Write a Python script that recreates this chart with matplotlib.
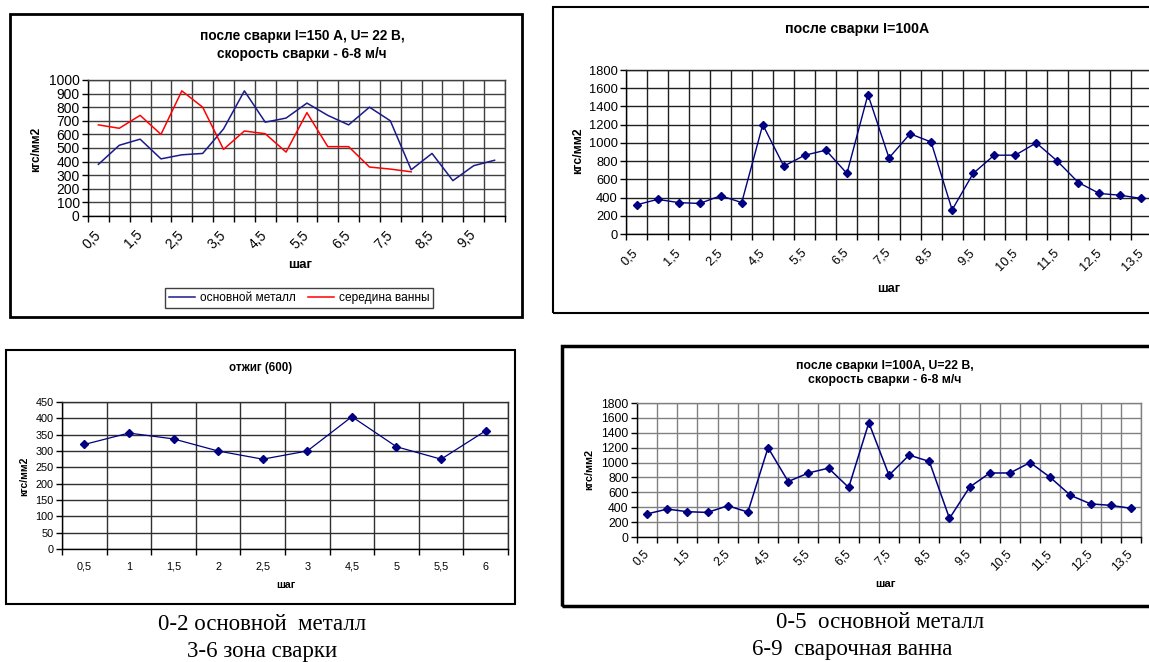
import matplotlib
matplotlib.use('Agg')
import matplotlib.pyplot as plt
from matplotlib.patches import Rectangle
from matplotlib.ticker import FixedLocator, MultipleLocator

plt.rcParams['font.family'] = ['Liberation Sans', 'DejaVu Sans']

# ---------------- data ----------------
cats1 = ['0,5', '1', '1,5', '2', '2,5', '3', '3,5', '4', '4,5', '5',
         '5,5', '6', '6,5', '7', '7,5', '8', '8,5', '9', '9,5', '10']
base_metal1 = [380, 520, 565, 420, 450, 460, 640, 920, 690, 720,
               830, 740, 670, 800, 700, 340, 460, 260, 370, 410]
bath_mid1 = [670, 645, 740, 600, 920, 800, 490, 625, 605, 470,
             760, 510, 510, 360, 345, 325]

cats2 = ['0,5', '1', '1,5', '2', '2,5', '3', '4,5', '5', '5,5', '6', '6,5', '7',
         '7,5', '8', '8,5', '9', '9,5', '10', '10,5', '11', '11,5', '12', '12,5',
         '13', '13,5']
vals2 = [320, 380, 345, 335, 420, 345, 1200, 745, 865, 920, 665, 1530, 835,
         1100, 1010, 265, 665, 865, 865, 1000, 800, 565, 445, 425, 390]

cats3 = ['0,5', '1', '1,5', '2', '2,5', '3', '4,5', '5', '5,5', '6']
vals3 = [320, 355, 337, 300, 275, 300, 405, 313, 275, 362]

cats4 = cats2
vals4 = [310, 375, 340, 330, 420, 335, 1200, 745, 860, 925, 665, 1535, 830,
         1100, 1015, 250, 670, 860, 860, 1000, 800, 560, 445, 425, 385]

title1 = 'после сварки I=150 А, U= 22 В,\nскорость сварки - 6-8 м/ч'
title2 = 'после сварки I=100А'
title3 = 'отжиг (600)'
title4 = 'после сварки I=100А, U=22 В,\nскорость сварки - 6-8 м/ч'
ylab = 'кгс/мм2'
xlab = 'шаг'
legend1 = ['основной металл', 'середина ванны']
caption3 = ['0-2 основной  металл', '3-6 зона сварки']
caption4 = ['0-5  основной металл', '6-9  сварочная ванна']

# ---------------- layout helpers ----------------
W, H = 1149, 662
fig = plt.figure(figsize=(W / 100, H / 100), dpi=100)
fig.patch.set_facecolor('white')
SERIF = ['Liberation Serif', 'DejaVu Serif']


def rect(l, t, r, b):
    return [l / W, 1 - b / H, (r - l) / W, (b - t) / H]


def fx(x):
    return x / W


def fy(y):
    return 1 - y / H


def border(l, t, r, b, lw):
    fig.add_artist(Rectangle((l / W, 1 - b / H), (r - l) / W, (b - t) / H,
                             transform=fig.transFigure, fill=False,
                             edgecolor='black', lw=lw, zorder=10))


def chart(box, cats, series, colors, ymax, ystep, every, rot, tfs, gridc,
          lw=1.0, marker=None, ms=0, pad=3):
    ax = fig.add_axes(rect(*box))
    n = len(cats)
    xs = list(range(n))
    lines = []
    for vals, c in zip(series, colors):
        ln, = ax.plot(xs[:len(vals)], vals, color=c, lw=lw, marker=marker,
                      ms=ms, mfc=c, mec=c, zorder=5)
        lines.append(ln)
    ax.set_xlim(-0.5, n - 0.5)
    ax.set_ylim(0, ymax)
    major = [i for i in xs if i % every == 0]
    ax.xaxis.set_major_locator(FixedLocator(major))
    if rot:
        ax.set_xticklabels([cats[i] for i in major], rotation=45, ha='right',
                           va='center', rotation_mode='anchor', fontsize=tfs)
    else:
        ax.set_xticklabels([cats[i] for i in major], fontsize=tfs)
    ax.xaxis.set_minor_locator(FixedLocator([i - 0.5 for i in range(n + 1)]))
    ax.tick_params(axis='x', which='major', length=0, pad=pad)
    ax.tick_params(axis='x', which='minor', length=4, direction='out',
                   width=1, color='black')
    ax.yaxis.set_major_locator(MultipleLocator(ystep))
    ax.tick_params(axis='y', length=4, direction='out', width=1,
                   labelsize=tfs, pad=2)
    ax.grid(True, axis='x', which='minor', color=gridc, lw=1.0)
    ax.grid(True, axis='y', which='major', color=gridc, lw=1.0)
    ax.set_axisbelow(True)
    for s in ('left', 'bottom'):
        ax.spines[s].set_color('black')
        ax.spines[s].set_linewidth(1.0)
    for s in ('top', 'right'):
        ax.spines[s].set_color(gridc)
        ax.spines[s].set_linewidth(1.0)
    ax.set_facecolor('white')
    return ax, lines


NAVY = '#000080'
RED = '#ff0000'

# ---------------- chart 1 (top left) ----------------
border(10, 14, 522, 317, 2.0)
ax1, ln1 = chart((88, 80, 505, 216), cats1, [base_metal1, bath_mid1],
                 ['#1a1a8c', RED], 1000, 100, 2, True, 10, '#404040',
                 lw=1.1, pad=12)
fig.text(fx(302), fy(45), title1, ha='center', va='center', fontsize=9.8,
         fontweight='bold', linespacing=1.35)
fig.text(fx(36), fy(149), ylab, ha='center', va='center', rotation=90,
         fontsize=8.6, fontweight='bold')
fig.text(fx(300), fy(265), xlab, ha='center', va='center', fontsize=9.5,
         fontweight='bold')
fig.legend(ln1, legend1, loc='center', bbox_to_anchor=(fx(299), fy(298)),
           ncol=2, fancybox=False, edgecolor='#404040', framealpha=1,
           fontsize=8.6, handlelength=2.2, columnspacing=1.0,
           handletextpad=0.4, borderpad=0.35)

# ---------------- chart 2 (top right) ----------------
border(553, 7, 1160, 313, 1.5)
chart((626, 70, 1152, 234), cats2, [vals2], [NAVY], 1800, 200, 2, True, 9.3,
      '#202020', lw=1.0, marker='D', ms=4.5, pad=12)
fig.text(fx(857), fy(29), title2, ha='center', va='center', fontsize=10.2,
         fontweight='bold')
fig.text(fx(578), fy(151), ylab, ha='center', va='center', rotation=90,
         fontsize=8.8, fontweight='bold')
fig.text(fx(889), fy(289), xlab, ha='center', va='center', fontsize=9.2,
         fontweight='bold')

# ---------------- chart 3 (bottom left) ----------------
border(6, 350, 515, 604, 1.5)
chart((62, 402, 508, 549), cats3, [vals3], [NAVY], 450, 50, 1, False, 7.8,
      '#303030', lw=0.9, marker='D', ms=4, pad=9)
fig.text(fx(261), fy(368), title3, ha='center', va='center', fontsize=8.3,
         fontweight='bold')
fig.text(fx(24), fy(476), ylab, ha='center', va='center', rotation=90,
         fontsize=7.5, fontweight='bold')
fig.text(fx(286), fy(585), xlab, ha='center', va='center', fontsize=7.6,
         fontweight='bold')
for i, line in enumerate(caption3):
    fig.text(fx(262), fy(624 + 28 * i), line, ha='center', va='center',
             fontsize=16.5, family=SERIF)

# ---------------- chart 4 (bottom right) ----------------
border(562, 346, 1160, 606, 2.5)
chart((637, 403, 1141, 537), cats4, [vals4], [NAVY], 1800, 200, 2, True, 8.7,
      '#808080', lw=1.1, marker='D', ms=4.5, pad=11)
fig.text(fx(885), fy(373), title4, ha='center', va='center', fontsize=8.8,
         fontweight='bold', linespacing=1.3)
fig.text(fx(589), fy(470), ylab, ha='center', va='center', rotation=90,
         fontsize=7.8, fontweight='bold')
fig.text(fx(885), fy(584), xlab, ha='center', va='center', fontsize=8.2,
         fontweight='bold')
fig.text(fx(880), fy(622), caption4[0], ha='center', va='center',
         fontsize=16.5, family=SERIF)
fig.text(fx(852), fy(649), caption4[1], ha='center', va='center',
         fontsize=16.5, family=SERIF)

fig.savefig('out.png', dpi=100, facecolor='white')
